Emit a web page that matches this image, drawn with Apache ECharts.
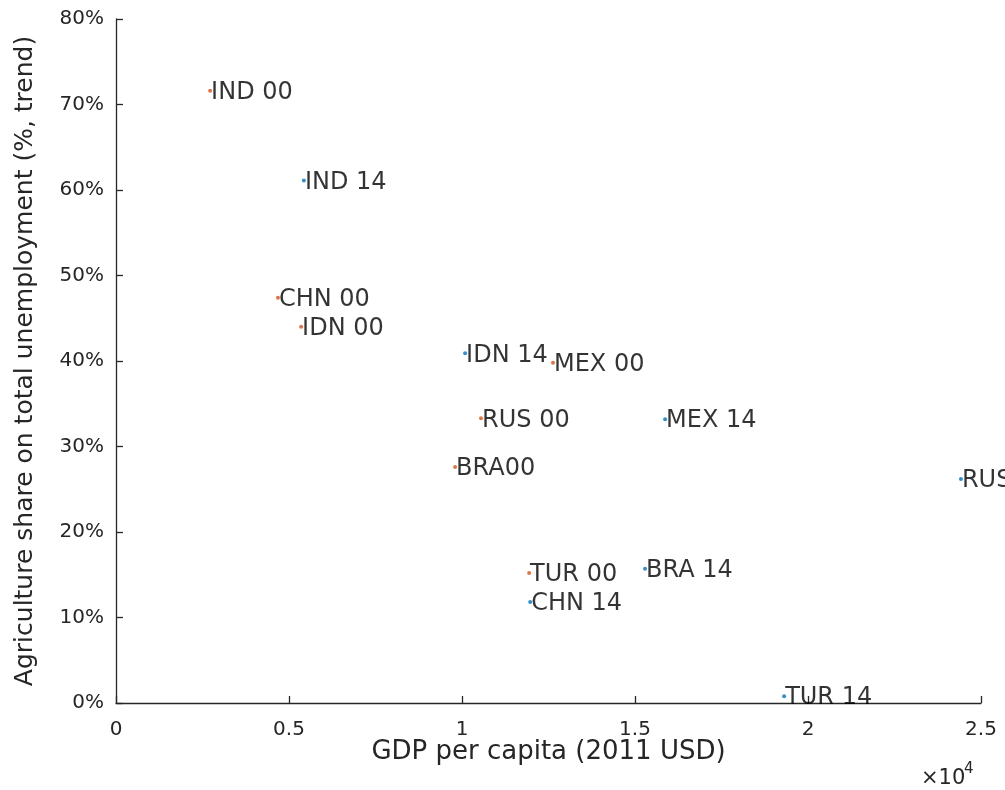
<!DOCTYPE html>
<html>
<head>
<meta charset="utf-8">
<script src="https://cdn.jsdelivr.net/npm/echarts@6/dist/echarts.min.js"></script>
<style>
  html, body { margin: 0; padding: 0; background: #fff; }
  #chart { width: 1005px; height: 790px; }
</style>
</head>
<body>
<div id="chart"></div>
<script>
// ---- data (GDP per capita in 2011 USD, agriculture share in %) ----
const labels2000 = ['IND 00', 'CHN 00', 'IDN 00', 'MEX 00', 'RUS 00', 'BRA00', 'TUR 00'];
const gdp2000    = [2720, 4680, 5350, 12630, 10550, 9800, 11940];
const agri2000   = [71.6, 47.4, 44.0, 39.8, 33.3, 27.6, 15.2];

const labels2014 = ['IND 14', 'IDN 14', 'MEX 14', 'RUS 14', 'BRA 14', 'CHN 14', 'TUR 14'];
const gdp2014    = [5430, 10090, 15870, 24420, 15290, 11970, 19310];
const agri2014   = [61.1, 40.9, 33.2, 26.2, 15.7, 11.8, 0.8];

const xTicks = [0, 5000, 10000, 15000, 20000, 25000];
const yTicks = [0, 10, 20, 30, 40, 50, 60, 70, 80];

const FONT = 'DejaVu Sans';
const AX = '#262626';

function pts(labels, xs, ys) {
  return labels.map((n, i) => ({ name: n, value: [xs[i], ys[i]] }));
}

const labelStyle = {
  show: true,
  position: 'right',
  distance: -1,
  offset: [0, 2],
  formatter: p => p.name,
  color: '#000',
  fontFamily: FONT,
  fontSize: 24
};

const chart = echarts.init(document.getElementById('chart'), null, { renderer: 'canvas' });
chart.setOption({
  animation: false,
  backgroundColor: '#fff',
  grid: { left: 116, right: 24, top: 19, bottom: 87, outerBoundsMode: 'none', containLabel: false },
  xAxis: {
    type: 'value',
    min: xTicks[0], max: xTicks[xTicks.length - 1], interval: 5000,
    name: 'GDP per capita (2011 USD)',
    nameLocation: 'middle', nameGap: 36, nameMoveOverlap: false,
    nameTextStyle: { fontFamily: FONT, fontSize: 26, color: AX },
    axisLine: { show: true, onZero: false, lineStyle: { color: AX, width: 1.3 } },
    axisTick: { show: true, inside: true, length: 7, lineStyle: { color: AX, width: 1.3 } },
    axisLabel: { formatter: v => String(v / 10000), fontFamily: FONT, fontSize: 20, color: AX, margin: 17 },
    splitLine: { show: false }
  },
  yAxis: {
    type: 'value',
    min: yTicks[0], max: yTicks[yTicks.length - 1], interval: 10,
    name: 'Agriculture share on total unemployment (%, trend)',
    nameLocation: 'middle', nameGap: 78, nameMoveOverlap: false,
    nameTextStyle: { fontFamily: FONT, fontSize: 25, color: AX },
    axisLine: { show: true, onZero: false, lineStyle: { color: AX, width: 1.3 } },
    axisTick: { show: true, inside: true, length: 7, lineStyle: { color: AX, width: 1.3 } },
    axisLabel: { formatter: '{value}%', fontFamily: FONT, fontSize: 20, color: AX, margin: 12 },
    splitLine: { show: false }
  },
  series: [
    {
      type: 'scatter', name: '2000',
      data: pts(labels2000, gdp2000, agri2000),
      symbol: 'circle', symbolSize: 4,
      itemStyle: { color: '#D95319' },
      label: labelStyle
    },
    {
      type: 'scatter', name: '2014',
      data: pts(labels2014, gdp2014, agri2014),
      symbol: 'circle', symbolSize: 4,
      itemStyle: { color: '#0072BD' },
      label: labelStyle
    }
  ],
  graphic: [
    { type: 'text', left: 921, top: 768, style: { text: '×10', fontFamily: FONT, fontSize: 21, fill: AX } },
    { type: 'text', left: 964, top: 762, style: { text: '4', fontFamily: FONT, fontSize: 15, fill: AX } }
  ]
});
</script>
</body>
</html>
